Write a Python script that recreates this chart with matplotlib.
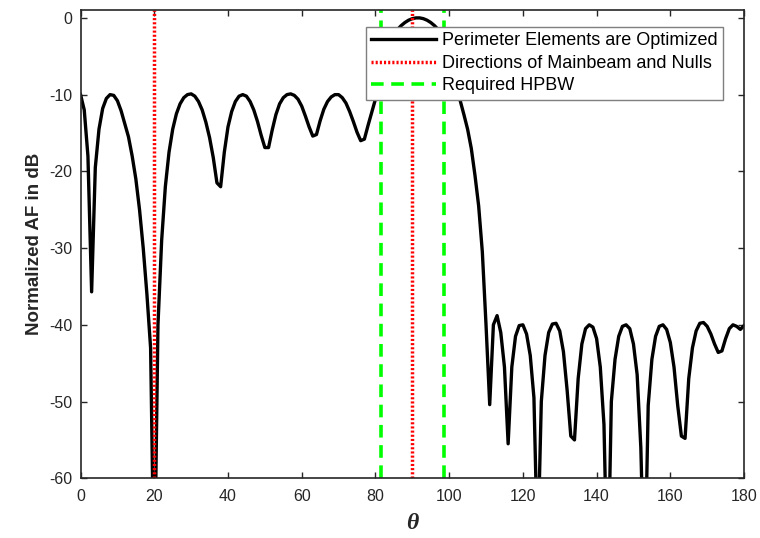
import numpy as np
import matplotlib
matplotlib.use('Agg')
import matplotlib.pyplot as plt

# Pattern, one sample per degree (0..180)
theta = np.arange(0, 181, 1)
af_db = [
    -10.0, -12.0, -18.0, -35.7, -19.5, -14.5, -11.8, -10.5, -10.0, -10.1,   # 0-9
    -10.8, -12.1, -13.8, -15.5, -18.0, -21.0, -25.0, -30.0, -36.0, -43.0,   # 10-19
    -75.0, -40.0, -29.0, -22.0, -17.5, -14.5, -12.5, -11.2, -10.4, -10.0,   # 20-29
    -9.9, -10.2, -10.9, -12.0, -13.6, -15.6, -18.2, -21.5, -22.0, -17.5,    # 30-39
    -14.2, -12.2, -10.9, -10.2, -10.0, -10.2, -10.9, -12.0, -13.5, -15.3,   # 40-49
    -16.9, -16.9, -14.6, -12.6, -11.2, -10.4, -10.0, -9.9, -10.1, -10.6,    # 50-59
    -11.5, -12.8, -14.2, -15.4, -15.2, -13.4, -11.9, -10.9, -10.3, -10.0,   # 60-69
    -10.0, -10.4, -11.1, -12.2, -13.5, -14.9, -16.0, -15.8, -14.0, -12.3,   # 70-79
    -10.6, -8.0, -5.8, -4.3, -3.1, -2.2, -1.5, -1.0, -0.6, -0.3,            # 80-89
    -0.1, 0.0, 0.0, -0.1, -0.3, -0.6, -1.0, -1.5, -2.2, -3.1,               # 90-99
    -4.3, -5.8, -8.0, -10.8, -12.6, -14.5, -17.0, -20.5, -24.5, -30.5,      # 100-109
    -40.0, -50.4, -40.0, -38.8, -41.0, -45.5, -55.5, -45.5, -41.5, -40.1,   # 110-119
    -40.0, -41.2, -44.0, -49.5, -70.0, -50.0, -44.0, -41.0, -39.9, -39.8,   # 120-129
    -40.8, -43.5, -48.5, -54.5, -55.0, -47.0, -42.5, -40.5, -40.0, -40.3,   # 130-139
    -41.8, -45.5, -53.0, -75.0, -50.0, -44.5, -41.5, -40.2, -40.0, -40.5,   # 140-149
    -42.5, -46.5, -56.0, -75.0, -50.5, -44.5, -41.5, -40.2, -40.0, -40.6,   # 150-159
    -42.3, -45.5, -50.5, -54.5, -54.8, -47.0, -43.0, -40.8, -39.8, -39.7,   # 160-169
    -40.2, -41.2, -42.5, -43.6, -43.4, -41.8, -40.5, -40.0, -40.2, -40.6,   # 170-179
    -40.1,                                                                  # 180
]

null_dirs = [20, 90]        # mainbeam and null directions
hpbw_edges = [81.5, 98.5]   # required HPBW

x_ticks = np.arange(0, 181, 20)
y_ticks = np.arange(-60, 1, 10)

plt.rcParams['font.family'] = ['Liberation Sans', 'DejaVu Sans']
plt.rcParams['axes.unicode_minus'] = False
dark = '#262626'

fig = plt.figure(figsize=(7.6, 5.38), dpi=100)
ax = fig.add_axes([0.106, 0.111, 0.873, 0.870])

ax.plot(theta, af_db, color='black', lw=2.4,
        label='Perimeter Elements are Optimized')

for i, d in enumerate(null_dirs):
    ax.axvline(d, color='red', lw=2.5, dashes=(0.6, 0.6),
               label='Directions of Mainbeam and Nulls' if i == 0 else None)

for i, d in enumerate(hpbw_edges):
    ax.axvline(d, color='#00ff00', lw=2.6, dashes=(3.5, 2.1),
               label='Required HPBW' if i == 0 else None)

ax.set_xlim(0, 180)
ax.set_ylim(-60, 1)
ax.set_xticks(x_ticks)
ax.set_yticks(y_ticks)
ax.tick_params(direction='in', length=4, width=1, top=True, right=True,
               labelsize=11.5, colors=dark)
ax.tick_params(axis='x', pad=8)
ax.tick_params(axis='y', pad=6)
for s in ax.spines.values():
    s.set_color(dark)
    s.set_linewidth(1.2)

ax.set_xlabel('θ', fontsize=17, color=dark, family='Liberation Serif',
              style='italic', fontweight='bold', labelpad=6)
ax.set_ylabel('Normalized AF in dB', fontsize=13.5, fontweight='bold', color=dark,
              labelpad=4)

leg = ax.legend(loc='upper right', bbox_to_anchor=(0.968, 0.964), borderaxespad=0,
                fontsize=13, handlelength=3.6, handletextpad=0.3,
                labelspacing=0.3, borderpad=0.3, fancybox=False, framealpha=1)
leg.get_frame().set_edgecolor('#7f7f7f')
leg.get_frame().set_linewidth(1.0)

fig.savefig('out.png', dpi=100)
